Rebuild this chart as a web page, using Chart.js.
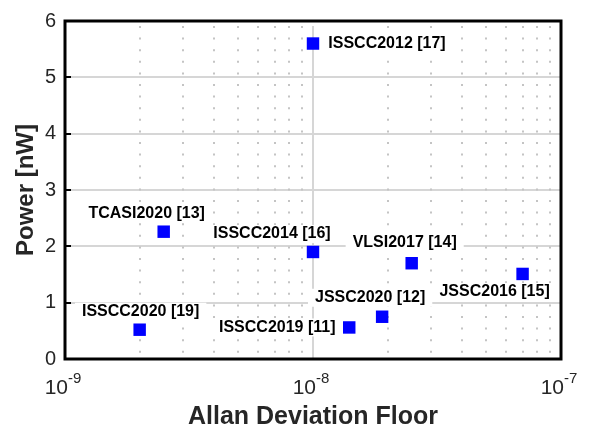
<!DOCTYPE html>
<html>
<head>
<meta charset="utf-8">
<script src="https://cdn.jsdelivr.net/npm/chart.js@4.4.0/dist/chart.umd.min.js"></script>
<style>
  html, body { margin: 0; padding: 0; background: #fff; }
  #wrap { width: 591px; height: 431px; position: relative; }
</style>
</head>
<body>
<div id="wrap"><canvas id="myChart"></canvas></div>
<script>
// values
const works = ['ISSCC2012 [17]', 'TCASI2020 [13]', 'ISSCC2014 [16]', 'VLSI2017 [14]',
               'JSSC2016 [15]', 'JSSC2020 [12]', 'ISSCC2019 [11]', 'ISSCC2020 [19]'];
const allanFloor = [1e-8, 2.5e-9, 1e-8, 2.5e-8, 7e-8, 1.9e-8, 1.4e-8, 2e-9];
const powerNW = [5.6, 2.26, 1.9, 1.7, 1.51, 0.75, 0.56, 0.52];
const yTicks = [0, 1, 2, 3, 4, 5, 6];
const xExponents = [-9, -8, -7];

// label offset from its marker, in px (centre of text)
const labelShift = [[74, 0], [-17, -18], [-41, -18], [-7, -21], [-28, 18], [-12, -19], [-72, 0], [1, -18]];

const FONT = '"Liberation Sans", Arial, sans-serif';
const AXIS_COLOR = '#262626';

const decor = {
    id: 'decor',
    beforeDatasetsDraw(chart) {
        const { ctx, chartArea: a, scales: { x, y } } = chart;
        ctx.save();
        // horizontal grid
        ctx.strokeStyle = '#d6d6d6';
        ctx.lineWidth = 2;
        yTicks.forEach(v => {
            const py = Math.round(y.getPixelForValue(v));
            ctx.beginPath();
            ctx.moveTo(a.left, py);
            ctx.lineTo(a.right, py);
            ctx.stroke();
        });
        // vertical grid: solid at decades, dotted in between
        xExponents.forEach(e => {
            for (let m = 1; m <= 9; m++) {
                const v = m * Math.pow(10, e);
                if (v > x.max * 1.0001) break;
                const px = Math.round(x.getPixelForValue(v));
                ctx.beginPath();
                if (m === 1) {
                    ctx.setLineDash([]);
                    ctx.strokeStyle = '#d6d6d6';
                } else {
                    ctx.setLineDash([2, 9.6]);
                    ctx.strokeStyle = '#c4c4c4';
                }
                ctx.moveTo(px, a.top + 5);
                ctx.lineTo(px, a.bottom);
                ctx.stroke();
            }
        });
        ctx.restore();
    },
    afterDatasetsDraw(chart) {
        const { ctx } = chart;
        const meta = chart.getDatasetMeta(0);
        ctx.save();
        ctx.font = 'bold 16px ' + FONT;
        ctx.textAlign = 'center';
        ctx.textBaseline = 'middle';
        meta.data.forEach((pt, i) => {
            const cx = pt.x + labelShift[i][0];
            const cy = pt.y + labelShift[i][1];
            const w = ctx.measureText(works[i]).width;
            ctx.fillStyle = '#fff';
            ctx.fillRect(cx - w / 2 - 7, cy - 9, w + 14, 18);
            ctx.fillStyle = '#000';
            ctx.fillText(works[i], cx, cy);
        });
        ctx.restore();
    },
    afterDraw(chart) {
        const { ctx, chartArea: a, scales: { x, y } } = chart;
        ctx.save();
        // box
        ctx.strokeStyle = '#000';
        ctx.lineWidth = 3;
        ctx.strokeRect(a.left, a.top, a.right - a.left, a.bottom - a.top);
        // inward ticks on the y axis
        ctx.lineWidth = 2;
        yTicks.forEach(v => {
            const py = Math.round(y.getPixelForValue(v));
            ctx.beginPath();
            ctx.moveTo(a.left, py);
            ctx.lineTo(a.left + 6, py);
            ctx.stroke();
        });
        // decade labels 10^n
        ctx.fillStyle = AXIS_COLOR;
        ctx.textBaseline = 'alphabetic';
        ctx.textAlign = 'left';
        xExponents.forEach(e => {
            const px = x.getPixelForValue(Math.pow(10, e));
            ctx.font = '21px ' + FONT;
            const w1 = ctx.measureText('10').width;
            ctx.font = '15px ' + FONT;
            const sup = String(e);
            const w2 = ctx.measureText(sup).width;
            const left = px - (w1 + w2) / 2 - 2;
            ctx.font = '21px ' + FONT;
            ctx.fillText('10', left, a.bottom + 35);
            ctx.font = '15px ' + FONT;
            ctx.fillText(sup, left + w1, a.bottom + 24);
        });
        ctx.restore();
    }
};

const ctx = document.getElementById('myChart').getContext('2d');
const myChart = new Chart(ctx, {
    type: 'scatter',
    data: {
        datasets: [{
            data: allanFloor.map((v, i) => ({ x: v, y: powerNW[i] })),
            pointStyle: 'rect',
            pointRadius: 8.8,
            backgroundColor: '#0000ff',
            borderWidth: 0
        }]
    },
    options: {
        responsive: true,
        maintainAspectRatio: false,
        animation: false,
        events: [],
        layout: { padding: { top: 14, right: 30, left: 0, bottom: 0 } },
        plugins: { legend: { display: false }, tooltip: { enabled: false } },
        scales: {
            x: {
                type: 'logarithmic',
                min: 1e-9,
                max: 1e-7,
                grid: { display: false, drawTicks: false },
                border: { display: false },
                ticks: { display: false },
                title: {
                    display: true,
                    text: 'Allan Deviation Floor',
                    color: AXIS_COLOR,
                    font: { family: FONT, size: 25, weight: 'bold', lineHeight: 1 },
                    padding: { top: 0, bottom: 1 }
                },
                afterFit(scale) { scale.height = 72; }
            },
            y: {
                min: 0,
                max: 6,
                grid: { display: false, drawTicks: false },
                border: { display: false },
                ticks: {
                    stepSize: 1,
                    padding: 9,
                    color: AXIS_COLOR,
                    font: { family: FONT, size: 20 }
                },
                title: {
                    display: true,
                    text: 'Power [nW]',
                    color: AXIS_COLOR,
                    font: { family: FONT, size: 24, weight: 'bold', lineHeight: 1 },
                    padding: { top: 14, bottom: 0 }
                },
                afterFit(scale) { scale.width = 65; }
            }
        }
    },
    plugins: [decor]
});
</script>
</body>
</html>
